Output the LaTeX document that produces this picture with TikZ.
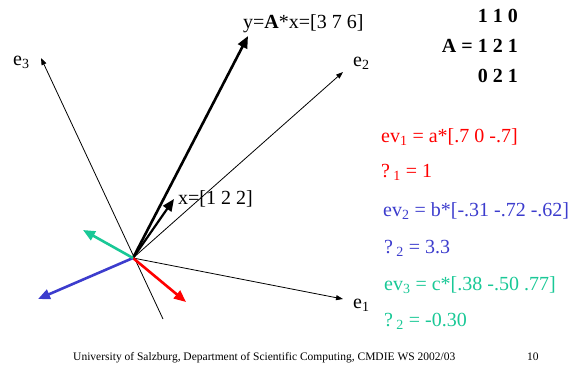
\documentclass[tikz,border=0pt]{standalone}
\usepackage{fontspec}
\setmainfont{Liberation Serif}
\usetikzlibrary{arrows.meta}
\definecolor{EvRojo}{RGB}{255,0,0}
\definecolor{EvAzul}{RGB}{60,60,205}
\definecolor{EvVerde}{RGB}{25,200,150}
\tikzset{
  axis/.style={line width=.8pt,-{Triangle[length=7pt,width=5pt]}},
  vec/.style={line width=2.6pt,-{Triangle[length=12pt,width=10pt]}},
  lab/.style={anchor=base west,inner sep=0pt},
  matrow/.style={anchor=base east,inner sep=0pt,font=\fontsize{20}{24}\selectfont\bfseries},
}
\begin{document}
\begin{tikzpicture}[x=1pt,y=-1pt,font=\fontsize{20}{24}\selectfont]
\useasboundingbox (0,0) rectangle (578,365);
% axes
\coordinate (O) at (133,258);
\coordinate (e1tip) at (343,299);
\coordinate (e2tip) at (343,72);
\coordinate (e3tip) at (41,58);
\coordinate (e3tail) at (163,319);
\draw[axis] (O) -- (e1tip);
\draw[axis] (O) -- (e2tip);
\draw[axis] (e3tail) -- (e3tip);
\node[lab] (e1lab) at (353,308) {e\textsubscript{1}};
\node[lab] (e2lab) at (353,66) {e\textsubscript{2}};
\node[lab] (e3lab) at (13,65) {e\textsubscript{3}};
% x and y=A*x
\coordinate (ytip) at (248,36);
\coordinate (xtip) at (174,199);
\draw[vec] (O) -- (ytip);
\draw[vec,line width=2.2pt] (O) -- (xtip);
\node[lab] (ylab) at (243,28) {y=\textbf{A}*x=[3 7 6]};
\node[lab] (xlab) at (178,204) {x=[1 2 2]};
% eigenvectors
\coordinate (ev1tip) at (186,302);
\coordinate (ev2tip) at (38,299);
\coordinate (ev3tip) at (83,230);
\draw[vec,EvRojo] (O) -- (ev1tip);
\draw[vec,EvAzul] (O) -- (ev2tip);
\draw[vec,EvVerde] (O) -- (ev3tip);
% matrix A
\node[matrow] (row1) at (518,22) {1 1 0};
\node[matrow] (row2) at (518,52) {A = 1 2 1};
\node[matrow] (row3) at (518,82) {0 2 1};
% eigenpairs
\node[lab,EvRojo] (ev1) at (381,142) {ev\textsubscript{1} = a*[.7 0 -.7]};
\node[lab,EvRojo] (lam1) at (381,177) {?\,\textsubscript{1} = 1};
\node[lab,EvAzul] (ev2) at (383,216) {ev\textsubscript{2} = b*[-.31 -.72 -.62]};
\node[lab,EvAzul] (lam2) at (384,253) {?\,\textsubscript{2} = 3.3};
\node[lab,EvVerde] (ev3) at (384,290) {ev\textsubscript{3} = c*[.38 -.50 .77]};
\node[lab,EvVerde] (lam3) at (384,326) {?\,\textsubscript{2} = -0.30};
% footer
\node[lab,font=\fontsize{11.5}{14}\selectfont] (foot) at (73,360) {University of Salzburg, Department of Scientific Computing, CMDIE WS 2002/03};
\node[lab,font=\fontsize{11.5}{14}\selectfont] (page) at (527,360) {10};
\end{tikzpicture}
\end{document}
